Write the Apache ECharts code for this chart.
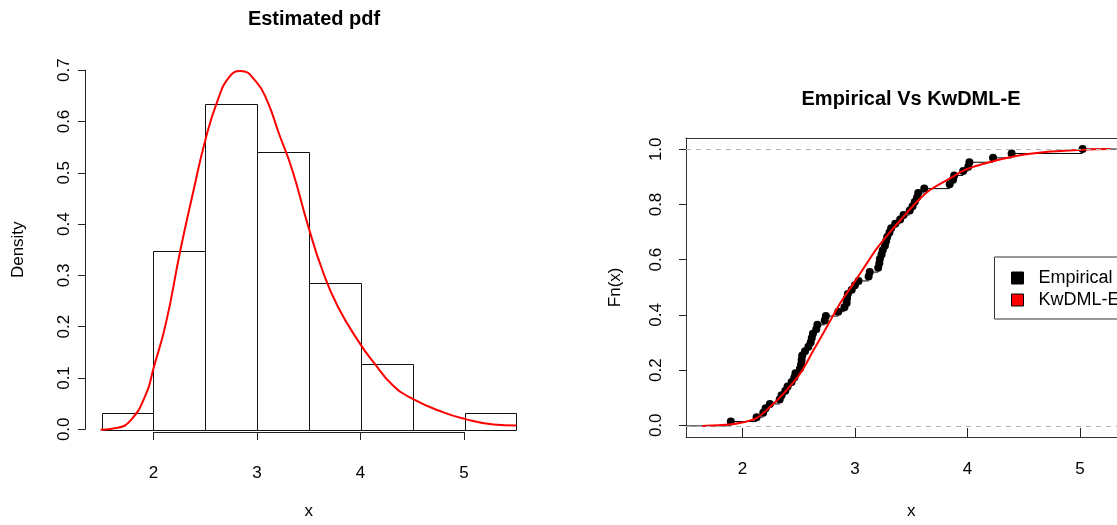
<!DOCTYPE html>
<html>
<head>
<meta charset="utf-8">
<script src="https://cdn.jsdelivr.net/npm/echarts@6/dist/echarts.min.js"></script>
<style>
  html, body { margin: 0; padding: 0; background: #fff; }
  #main { width: 1117px; height: 525px; }
</style>
</head>
<body>
<div id="main"></div>
<script>
// histogram (left panel)
var binEdges = [1.5, 2, 2.5, 3, 3.5, 4, 4.5, 5, 5.5];
var density = [0.032, 0.349, 0.635, 0.54, 0.286, 0.127, 0, 0.032];
// fitted density curve
var pdfX = [1.49, 1.64, 1.78, 1.93, 2.0, 2.12, 2.26, 2.38, 2.5, 2.62, 2.73, 2.84, 2.99, 3.1, 3.21, 3.34, 3.49, 3.63, 3.78, 3.99, 4.12, 4.31, 4.5, 4.79, 5.0, 5.28, 5.5];
var pdfY = [0, 0.003, 0.018, 0.07, 0.119, 0.207, 0.35, 0.46, 0.564, 0.642, 0.687, 0.699, 0.678, 0.639, 0.577, 0.505, 0.398, 0.31, 0.239, 0.168, 0.132, 0.086, 0.06, 0.034, 0.021, 0.01, 0.008];
// sorted sample (right panel, empirical cdf)
var sampleX = [1.896, 2.125, 2.184, 2.205, 2.243, 2.33, 2.347, 2.38, 2.40, 2.436, 2.46, 2.47,
  2.51, 2.52, 2.525, 2.53, 2.555, 2.585, 2.605, 2.615, 2.625, 2.655, 2.665, 2.73, 2.74, 2.85,
  2.905, 2.925, 2.928, 2.935, 2.97, 2.998, 3.03, 3.12, 3.13, 3.205, 3.215, 3.22, 3.235, 3.245,
  3.265, 3.275, 3.285, 3.305, 3.32, 3.356, 3.40, 3.43, 3.485, 3.51, 3.53, 3.55, 3.56, 3.614,
  3.84, 3.87, 3.88, 3.96, 4.005, 4.015, 4.225, 4.39, 5.02];
// fitted KwDML-E cdf
var cdfX = [1.644, 1.887, 2.006, 2.125, 2.243, 2.362, 2.51, 2.63, 2.748, 2.866, 2.985, 3.104, 3.193, 3.31, 3.43, 3.549, 3.668, 3.846, 3.994, 4.217, 4.439, 4.736, 5.033, 5.27];
var cdfY = [0, 0.005, 0.013, 0.028, 0.068, 0.116, 0.188, 0.273, 0.357, 0.442, 0.514, 0.587, 0.641, 0.70, 0.756, 0.81, 0.853, 0.895, 0.928, 0.955, 0.976, 0.991, 0.998, 1.0];

var FONT = 'Liberation Sans, Arial, sans-serif';
var AX = '#222';
var FS = 17;
var n = sampleX.length;
// right panel is cut by the image edge: visible x range only
var rxMin = 1.498, rxMax = 5.326;

var ecdfPts = sampleX.map(function (x, i) { return [x, (i + 1) / n]; });
var ecdfSegs = [[rxMin, 0, sampleX[0]]].concat(sampleX.map(function (x, i) {
  return [x, (i + 1) / n, i + 1 < n ? sampleX[i + 1] : rxMax];
}));

function hidden(gi) { return { gridIndex: gi, type: 'value', show: false }; }
function frame(gi, pos, min, max) {
  return { gridIndex: gi, type: 'value', position: pos, min: min, max: max,
    axisLine: { show: true, onZero: false, lineStyle: { color: '#333' } },
    axisTick: { show: false }, axisLabel: { show: false }, splitLine: { show: false } };
}
var nameStyle = { fontSize: FS, color: '#000', fontFamily: FONT };

var chart = echarts.init(document.getElementById('main'));
chart.setOption({
  animation: false,
  backgroundColor: '#fff',
  textStyle: { fontFamily: FONT },
  title: [
    { text: 'Estimated pdf', left: 309, top: 4, textAlign: 'center',
      textStyle: { fontFamily: FONT, fontSize: 20, fontWeight: 'bold', color: '#000' } },
    { text: 'Empirical Vs KwDML-E', left: 906, top: 84, textAlign: 'center',
      textStyle: { fontFamily: FONT, fontSize: 20, fontWeight: 'bold', color: '#000' } }
  ],
  graphic: [
    // legend box, runs past the right edge like the original
    { type: 'rect', left: 994, top: 256.5, z: 90,
      shape: { width: 200, height: 62 },
      style: { fill: '#fff', stroke: '#333', lineWidth: 1 } }
  ],
  legend: {
    orient: 'vertical', left: 994, top: 257, z: 100,
    data: [
      { name: 'Empirical', icon: 'rect', itemStyle: { color: '#000', borderColor: '#000', borderWidth: 1 } },
      { name: 'KwDML-E', icon: 'rect', itemStyle: { color: '#ff0000', borderColor: '#000', borderWidth: 1 } }
    ],
    itemWidth: 12, itemHeight: 12, itemGap: 4,
    padding: [12, 0, 12, 17],
    selectedMode: false,
    textStyle: { fontFamily: FONT, fontSize: 18, color: '#000', padding: [0, 0, 0, 10] }
  },
  grid: [
    { left: 85, top: 56, width: 448, height: 388 },           // 0 histogram data
    { left: 153.5, top: 56, width: 310.5, height: 388 },      // 1 left x axis
    { left: 85, top: 70.2, width: 448, height: 359.1 },       // 2 left y axis
    { left: 686, top: 138, width: 431, height: 299 },         // 3 ecdf data
    { left: 742.5, top: 138, width: 337.6, height: 299 },     // 4 right x axis
    { left: 686, top: 149.3, width: 431, height: 276 }        // 5 right y axis
  ],
  xAxis: [
    { gridIndex: 0, type: 'value', min: 1.34, max: 5.66, show: false },
    { gridIndex: 1, type: 'value', min: 2, max: 5, interval: 1,
      axisLine: { show: true, lineStyle: { color: AX } },
      axisTick: { show: true, length: 8, lineStyle: { color: AX } },
      axisLabel: { fontSize: FS, color: '#000', margin: 33, fontFamily: FONT },
      splitLine: { show: false },
      name: 'x', nameLocation: 'middle', nameGap: 71, nameTextStyle: nameStyle },
    hidden(2),
    frame(3, 'bottom', rxMin, rxMax),
    { gridIndex: 4, type: 'value', min: 2, max: 5, interval: 1,
      axisLine: { show: false },
      axisTick: { show: true, length: 9, lineStyle: { color: AX } },
      axisLabel: { fontSize: FS, color: '#000', margin: 33, fontFamily: FONT },
      splitLine: { show: false },
      name: 'x', nameLocation: 'middle', nameGap: 75, nameTextStyle: nameStyle },
    hidden(5),
    frame(3, 'top', rxMin, rxMax)
  ],
  yAxis: [
    { gridIndex: 0, type: 'value', min: -0.028, max: 0.728, show: false },
    hidden(1),
    { gridIndex: 2, type: 'value', min: 0, max: 0.7, interval: 0.1,
      axisLine: { show: true, lineStyle: { color: AX } },
      axisTick: { show: true, length: 7, lineStyle: { color: AX } },
      axisLabel: { fontSize: FS, color: '#000', margin: 12, rotate: 90, fontFamily: FONT,
        formatter: function (v) { return v.toFixed(1); } },
      splitLine: { show: false },
      name: 'Density', nameLocation: 'middle', nameGap: 58, nameRotate: 90, nameTextStyle: nameStyle },
    frame(3, 'left', -0.04, 1.04),
    hidden(4),
    { gridIndex: 5, type: 'value', min: 0, max: 1, interval: 0.2,
      axisLine: { show: false },
      axisTick: { show: true, length: 7, lineStyle: { color: AX } },
      axisLabel: { fontSize: FS, color: '#000', margin: 21, rotate: 90, fontFamily: FONT,
        formatter: function (v) { return v.toFixed(1); } },
      splitLine: { show: false },
      name: 'Fn(x)', nameLocation: 'middle', nameGap: 62, nameRotate: 90, nameTextStyle: nameStyle }
  ],
  series: [
    {
      type: 'custom', xAxisIndex: 0, yAxisIndex: 0, silent: true,
      data: density.map(function (d, i) { return [binEdges[i], binEdges[i + 1], d]; }),
      encode: { x: [0, 1], y: 2 },
      renderItem: function (params, api) {
        var p0 = api.coord([api.value(0), 0]);
        var p1 = api.coord([api.value(1), api.value(2)]);
        var x0 = Math.round(p0[0]), x1 = Math.round(p1[0]);
        var yb = Math.round(p0[1]), yt = Math.round(p1[1]);
        return {
          type: 'rect',
          shape: { x: x0 + 0.5, y: yt + 0.5, width: x1 - x0, height: yb - yt },
          style: { fill: '#fff', stroke: '#111', lineWidth: 1 }
        };
      }
    },
    {
      type: 'line', xAxisIndex: 0, yAxisIndex: 0, silent: true,
      data: pdfX.map(function (x, i) { return [x, pdfY[i]]; }),
      smooth: 0.5, showSymbol: false, symbol: 'none',
      lineStyle: { color: '#ff0000', width: 2 }
    },
    {
      type: 'custom', xAxisIndex: 3, yAxisIndex: 3, silent: true,
      data: ecdfSegs, encode: { x: [0, 2], y: 1 },
      renderItem: function (params, api) {
        var a = api.coord([api.value(0), api.value(1)]);
        var b = api.coord([api.value(2), api.value(1)]);
        return { type: 'line', shape: { x1: a[0], y1: a[1], x2: b[0], y2: b[1] },
                 style: { stroke: '#000', lineWidth: 1 } };
      },
      markLine: {
        silent: true, symbol: 'none', label: { show: false },
        lineStyle: { color: '#b3b3b3', type: [5, 5], width: 1 },
        data: [{ yAxis: 0 }, { yAxis: 1 }]
      }
    },
    {
      name: 'Empirical', type: 'scatter', xAxisIndex: 3, yAxisIndex: 3, silent: true,
      data: ecdfPts, symbolSize: 8, itemStyle: { color: '#000', opacity: 1 }
    },
    {
      name: 'KwDML-E', type: 'line', xAxisIndex: 3, yAxisIndex: 3, silent: true,
      data: cdfX.map(function (x, i) { return [x, cdfY[i]]; }),
      smooth: 0.3, showSymbol: false, symbol: 'none',
      lineStyle: { color: '#ff0000', width: 2 }, itemStyle: { color: '#ff0000' }
    }
  ]
});
</script>
</body>
</html>
